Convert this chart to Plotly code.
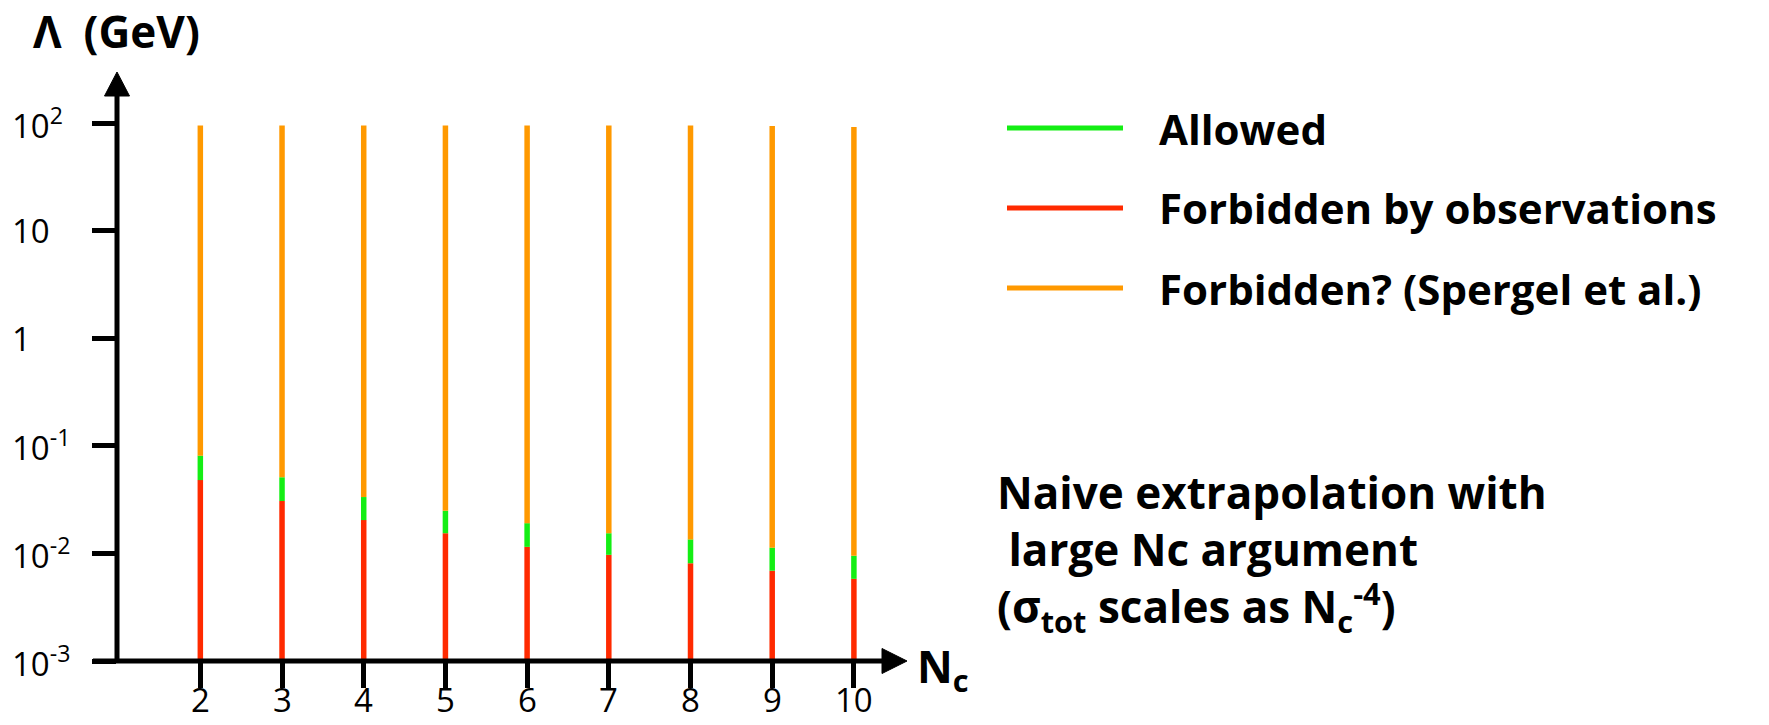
import math
import plotly.graph_objects as go

# ---- data ----
nc_values = [2, 3, 4, 5, 6, 7, 8, 9, 10]
lambda_floor = [0.001] * 9
forbidden_obs_top = [0.048, 0.0307, 0.0204, 0.0154, 0.0115, 0.0097, 0.0081, 0.0069, 0.0058]
allowed_top = [0.081, 0.051, 0.0334, 0.0249, 0.0191, 0.0154, 0.0135, 0.0113, 0.0095]
spergel_top = [95, 95, 95, 95, 95, 95, 95, 94, 92]
x_tick_text = ["2", "3", "4", "5", "6", "7", "8", "9", "10"]
y_tick_vals = [0.001, 0.01, 0.1, 1, 10, 100]
y_tick_text = ["10<sup>-3</sup>", "10<sup>-2</sup>", "10<sup>-1</sup>", "1", "10", "10<sup>2</sup>"]
legend_labels = ["Allowed", "Forbidden by observations", "Forbidden? (Spergel et al.)"]
note_lines = ["Naive extrapolation with",
              "\u00a0large Nc argument",
              "(σ<sub>tot</sub> scales as N<sub>c</sub><sup>-4</sup>)"]

GREEN = "#14EE14"
RED = "#FF2A00"
ORANGE = "#FF9900"
FONT = "Open Sans"

W, H = 1769, 725
L, R, T, B = 117, 907, 72, 661  # plot area, in window pixels
X_RANGE = [0.98, 10.65]
Y_RANGE = [-3, 2.474]


def px(x):
    return (x - L) / (R - L)


def py(y):
    return (B - y) / (B - T)


def segments(xs, lo, hi):
    X, Y = [], []
    for x, a, b in zip(xs, lo, hi):
        X += [x, x, None]
        Y += [a, b, None]
    return X, Y


fig = go.Figure()
for lo, hi, col, name in [
    (lambda_floor, forbidden_obs_top, RED, legend_labels[1]),
    (forbidden_obs_top, allowed_top, GREEN, legend_labels[0]),
    (allowed_top, spergel_top, ORANGE, legend_labels[2]),
]:
    X, Y = segments(nc_values, lo, hi)
    fig.add_trace(go.Scatter(x=X, y=Y, mode="lines", name=name,
                             line=dict(color=col, width=5.5), showlegend=False,
                             hoverinfo="skip"))

shapes = []
# axis lines
shapes.append(dict(type="line", xref="paper", yref="paper",
                   x0=px(L), x1=px(L), y0=py(B + 2), y1=py(92),
                   line=dict(color="black", width=5)))
shapes.append(dict(type="line", xref="paper", yref="paper",
                   x0=px(93), x1=px(886), y0=py(B), y1=py(B),
                   line=dict(color="black", width=5)))
# arrowheads
shapes.append(dict(type="path", xref="paper", yref="paper",
                   path=f"M {px(L)},{py(72)} L {px(L-12.5)},{py(96)} L {px(L+12.5)},{py(96)} Z",
                   fillcolor="black", line=dict(color="black", width=1)))
shapes.append(dict(type="path", xref="paper", yref="paper",
                   path=f"M {px(907)},{py(B)} L {px(882)},{py(B-12.5)} L {px(882)},{py(B+12.5)} Z",
                   fillcolor="black", line=dict(color="black", width=1)))
# legend line samples
for yy, col in zip([128, 208, 288], [GREEN, RED, ORANGE]):
    shapes.append(dict(type="line", xref="paper", yref="paper",
                       x0=px(1007), x1=px(1123), y0=py(yy), y1=py(yy),
                       line=dict(color=col, width=5)))

annotations = []
# y tick labels, left aligned
for v, t in zip(y_tick_vals, y_tick_text):
    annotations.append(dict(x=px(10), xref="paper", y=math.log10(v), yref="y",
                            text=t, showarrow=False, xanchor="left", yanchor="middle",
                            font=dict(family=FONT, size=33, color="black")))
# x tick labels
for n, t in zip(nc_values, x_tick_text):
    annotations.append(dict(x=n, xref="x", y=py(724), yref="paper",
                            text=t, showarrow=False, xanchor="center", yanchor="bottom",
                            font=dict(family=FONT, size=33, color="black")))
# legend texts
for yy, lab in zip([128, 208, 288], legend_labels):
    annotations.append(dict(x=px(1157), xref="paper", y=py(yy), yref="paper",
                            text=f"<b>{lab}</b>", showarrow=False, xanchor="left",
                            yanchor="middle", font=dict(family=FONT, size=42, color="black")))
# axis titles
annotations.append(dict(x=px(31), xref="paper", y=py(31), yref="paper",
                        text="<b>Λ\u2002(GeV)</b>", showarrow=False, xanchor="left",
                        yanchor="middle", font=dict(family=FONT, size=44, color="black")))
annotations.append(dict(x=px(915), xref="paper", y=py(668), yref="paper",
                        text="<b>N<sub>c</sub></b>", showarrow=False, xanchor="left",
                        yanchor="middle", font=dict(family=FONT, size=44, color="black")))
# note
annotations.append(dict(x=px(995), xref="paper", y=py(552), yref="paper",
                        text="<b>" + "<br>".join(note_lines) + "</b>", showarrow=False,
                        xanchor="left", yanchor="middle", align="left",
                        font=dict(family=FONT, size=44, color="black")))

fig.update_layout(
    width=W, height=H,
    margin=dict(l=L, r=W - R, t=T, b=H - B, pad=0),
    paper_bgcolor="white", plot_bgcolor="white",
    shapes=shapes, annotations=annotations, showlegend=False,
    xaxis=dict(range=X_RANGE, tickvals=nc_values, showticklabels=False,
               ticks="outside", ticklen=26, tickwidth=5, tickcolor="black",
               showgrid=False, zeroline=False, showline=False, automargin=False),
    yaxis=dict(type="log", range=Y_RANGE, tickvals=y_tick_vals,
               ticks="outside", ticklen=24, tickwidth=5, tickcolor="black",
               showticklabels=False, showgrid=False, zeroline=False, showline=False,
               automargin=False),
)

# remove the browser's default 8px page margin so the figure fills the window
fig.write_html("out.html",
               config={"displayModeBar": False},
               post_script="document.body.style.margin='0px';"
                           "document.body.style.overflow='hidden';")
